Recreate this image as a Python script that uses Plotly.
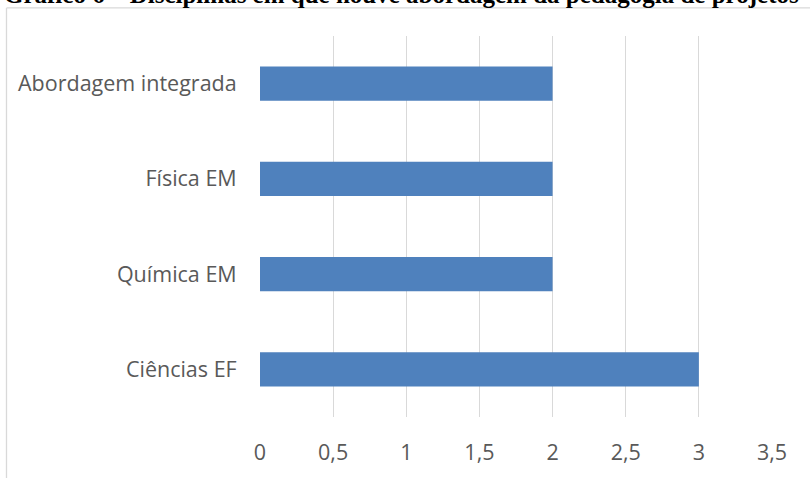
import plotly.graph_objects as go

categories = ["Ciências EF", "Química EM", "Física EM", "Abordagem integrada"]
values = [3, 2, 2, 2]
title_text = "Gráfico 6 – Disciplinas em que houve abordagem da pedagogia de projetos"
x_ticks = [0, 0.5, 1, 1.5, 2, 2.5, 3, 3.5]

L, R, T, B = 260, 38, 36, 55
W, H = 810, 478
pw, ph = W - L - R, H - T - B

def px(x):
    return (x - L) / pw

def py(y):
    return (H - B - y) / ph

FONT = "Open Sans"
FS = 21.5
GRAY = "#595959"

fig = go.Figure(go.Bar(
    x=values, y=categories, orientation="h",
    marker=dict(color="#4F81BD", line=dict(color="#4F81BD", width=0)),
    width=0.358,
))

fig.update_layout(
    width=W, height=H,
    margin=dict(l=L, r=R, t=T, b=B),
    paper_bgcolor="white", plot_bgcolor="white",
    separators=",.",
    showlegend=False,
    font=dict(family=FONT, size=FS, color=GRAY),
    xaxis=dict(
        range=[0, 3.5], tickvals=x_ticks, ticktext=[str(t).replace(".", ",") for t in x_ticks],
        showgrid=True, gridcolor="#d9d9d9", gridwidth=1.3,
        zeroline=False, showline=False,
        ticks="outside", ticklen=16, tickcolor="rgba(0,0,0,0)",
        tickfont=dict(family=FONT, size=FS, color=GRAY),
    ),
    yaxis=dict(
        showgrid=False, zeroline=False, showline=False,
        ticks="outside", ticklen=18, tickcolor="rgba(0,0,0,0)",
        tickfont=dict(family=FONT, size=FS, color=GRAY),
        range=[-0.5, 3.5],
    ),
    shapes=[
        dict(type="line", xref="paper", yref="paper",
             x0=px(6.5), x1=px(6.5), y0=py(7.5), y1=py(500),
             line=dict(color="#d9d9d9", width=1.3)),
        dict(type="line", xref="paper", yref="paper",
             x0=px(6.5), x1=px(830), y0=py(7.5), y1=py(7.5),
             line=dict(color="#d9d9d9", width=1.3)),
    ],
    annotations=[
        dict(text="<b>" + title_text + "</b>", xref="paper", yref="paper",
             x=px(2), y=py(-6), xanchor="left", yanchor="middle",
             showarrow=False,
             font=dict(family="Liberation Serif", size=25, color="black")),
    ],
)

fig.write_html("out.html", config={"displayModeBar": False},
               post_script="document.body.style.margin='0';")
